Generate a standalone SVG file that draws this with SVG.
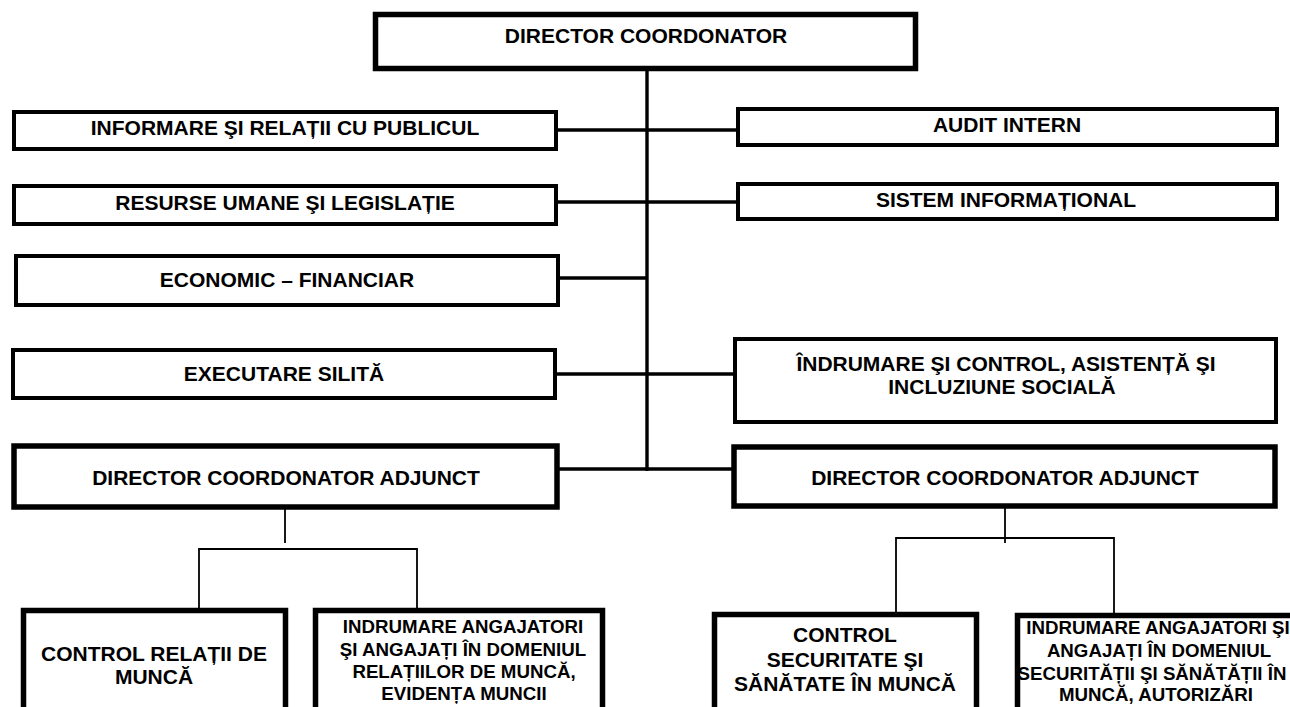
<svg xmlns="http://www.w3.org/2000/svg" width="1290" height="707" viewBox="0 0 1290 707">
<style>
  .box { fill: #ffffff; stroke: #000000; stroke-width: 4; }
  .thick { stroke-width: 5.5; }
  .t { font-family: "Liberation Sans", Arial, Helvetica, sans-serif; font-weight: bold; font-size: 21px; fill: #000000; text-anchor: middle; }
  .s { font-size: 18.7px; }
  .conn { stroke: #000000; stroke-width: 3.4; fill: none; }
  .thin { stroke: #000000; stroke-width: 1.8; fill: none; }
</style>
<rect width="1290" height="707" fill="#ffffff"/>

<g id="connectors">
  <line class="conn" x1="647" y1="70" x2="647" y2="471"/>
  <line class="conn" x1="556" y1="130" x2="738" y2="130"/>
  <line class="conn" x1="556" y1="202" x2="738" y2="202"/>
  <line class="conn" x1="558" y1="278" x2="647" y2="278"/>
  <line class="conn" x1="555" y1="374" x2="735" y2="374"/>
  <line class="conn" x1="557" y1="469" x2="734" y2="469"/>
  <line class="thin" x1="285" y1="508" x2="285" y2="543"/>
  <polyline class="thin" points="199,615 199,549 417,549 417,609"/>
  <line class="thin" x1="1005" y1="507" x2="1005" y2="543"/>
  <polyline class="thin" points="896,615 896,538 1114,538 1114,614"/>
</g>

<g id="director">
  <rect class="box thick" x="375.5" y="14.5" width="540" height="54"/>
  <text class="t" x="646" y="43">DIRECTOR COORDONATOR</text>
</g>
<g id="informare">
  <rect class="box" x="14" y="112" width="542" height="37"/>
  <text class="t" x="285" y="135">INFORMARE ŞI RELAȚII CU PUBLICUL</text>
</g>
<g id="resurse">
  <rect class="box" x="14" y="186" width="542" height="38"/>
  <text class="t" x="285" y="210">RESURSE UMANE ŞI LEGISLAȚIE</text>
</g>
<g id="audit">
  <rect class="box" x="738" y="109" width="539" height="36"/>
  <text class="t" x="1007" y="132">AUDIT INTERN</text>
</g>
<g id="sistem">
  <rect class="box" x="738" y="184" width="539" height="35"/>
  <text class="t" x="1006" y="207">SISTEM INFORMAȚIONAL</text>
</g>
<g id="economic">
  <rect class="box" x="16" y="256" width="542" height="49"/>
  <text class="t" x="287" y="287">ECONOMIC – FINANCIAR</text>
</g>
<g id="executare">
  <rect class="box" x="13" y="350" width="542" height="48"/>
  <text class="t" x="284" y="381">EXECUTARE SILITĂ</text>
</g>
<g id="indrumare-control">
  <rect class="box" x="735" y="339" width="541" height="83"/>
  <text class="t" x="1006" y="371">ÎNDRUMARE ŞI CONTROL, ASISTENȚĂ ŞI</text>
  <text class="t" x="1002" y="394">INCLUZIUNE SOCIALĂ</text>
</g>
<g id="adjunct-stanga">
  <rect class="box thick" x="14" y="446" width="543" height="61"/>
  <text class="t" x="286" y="485">DIRECTOR COORDONATOR ADJUNCT</text>
</g>
<g id="adjunct-dreapta">
  <rect class="box thick" x="734" y="447" width="541" height="59"/>
  <text class="t" x="1005" y="485">DIRECTOR COORDONATOR ADJUNCT</text>
</g>
<g id="control-relatii">
  <rect class="box thick" x="23.5" y="610.5" width="262" height="120"/>
  <text class="t" x="154" y="661">CONTROL RELAȚII DE</text>
  <text class="t" x="154" y="684">MUNCĂ</text>
</g>
<g id="indrumare-relatii">
  <rect class="box thick" x="315.5" y="610.5" width="287" height="120"/>
  <text class="t s" x="463" y="633">INDRUMARE ANGAJATORI</text>
  <text class="t s" x="463" y="656">ŞI ANGAJAȚI ÎN DOMENIUL</text>
  <text class="t s" x="464" y="678">RELAȚIILOR DE MUNCĂ,</text>
  <text class="t s" x="464" y="700">EVIDENȚA MUNCII</text>
</g>
<g id="control-securitate">
  <rect class="box thick" x="714.5" y="614.5" width="262" height="120"/>
  <text class="t" x="845" y="642">CONTROL</text>
  <text class="t" x="845" y="667">SECURITATE ŞI</text>
  <text class="t" x="845" y="691">SĂNĂTATE ÎN MUNCĂ</text>
</g>
<g id="indrumare-securitate">
  <rect class="box thick" x="1017.5" y="615.5" width="280" height="120"/>
  <text class="t s" x="1158" y="634">INDRUMARE ANGAJATORI ŞI</text>
  <text class="t s" x="1159" y="657">ANGAJAȚI ÎN DOMENIUL</text>
  <text class="t s" x="1152" y="680">SECURITĂȚII ŞI SĂNĂTĂȚII ÎN</text>
  <text class="t s" x="1156" y="701">MUNCĂ, AUTORIZĂRI</text>
</g>
</svg>
